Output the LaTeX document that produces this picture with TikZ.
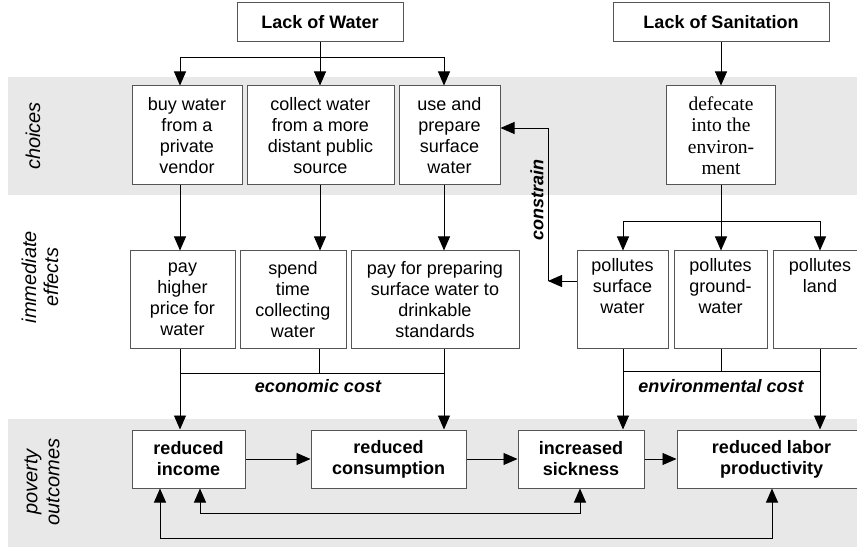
\documentclass[tikz,border=0pt]{standalone}
\usepackage{fontspec}
\setmainfont{Liberation Sans}
\newfontfamily\serifface{Liberation Serif}
\usetikzlibrary{arrows.meta}
\definecolor{bandgray}{HTML}{E8E8E8}
\definecolor{boxgray}{HTML}{555555}
\newcommand\bodyfont{\fontsize{18}{21}\selectfont}
\newcommand\lblfont{\fontsize{20}{22}\selectfont\itshape}
\tikzset{
  box/.style={draw=boxgray, line width=1pt, fill=white, align=center, inner sep=0pt, font=\bodyfont},
  topbox/.style={box, minimum height=39pt, font=\bodyfont\bfseries},
  choicebox/.style={box, minimum height=99pt},
  effbox/.style={box, minimum height=97pt},
  outbox/.style={box, minimum height=58pt, font=\bodyfont\bfseries},
  conn/.style={line width=0.9pt, black},
  arr/.style={conn, -{Triangle[length=14pt,width=12pt]}},
  darr/.style={conn, {Triangle[length=14pt,width=12pt]}-{Triangle[length=14pt,width=12pt]}},
  rowlabel/.style={rotate=90, align=center, font=\lblfont, inner sep=0pt},
  costlabel/.style={font=\bodyfont\bfseries\itshape, inner sep=0pt}
}
\begin{document}
\begin{tikzpicture}[x=1pt,y=-1pt]
\useasboundingbox (0,0) rectangle (857,548);
% bands
\fill[bandgray] (8,77) rectangle (857,195);
\fill[bandgray] (8,419) rectangle (857,547);
% row labels
\node[rowlabel] (lchoices) at (33,136) {choices};
\node[rowlabel] (leffects) at (40,277) {immediate\\effects};
\node[rowlabel] (loutcomes) at (42,482) {poverty\\outcomes};
% column x positions
\coordinate (cA) at (180,0);
\coordinate (cB) at (320,0);
\coordinate (cBb) at (319,0);
\coordinate (cC) at (444,0);
\coordinate (sA) at (623,0);
\coordinate (sB) at (721,0);
\coordinate (sC) at (820,0);
\coordinate (fA) at (160,0);
\coordinate (fB) at (200,0);
\coordinate (fC) at (580,0);
\coordinate (fD) at (772,0);
\coordinate (busW) at (0,57);
\coordinate (busS) at (0,221);
\coordinate (busE) at (0,373);
\coordinate (busV) at (0,371);
\coordinate (fb1) at (0,513);
\coordinate (fb2) at (0,538);
\coordinate (k1) at (548,281);
\coordinate (k2) at (548,128);
% top
\node[topbox, minimum width=166pt] (water) at (320,22.5) {Lack of Water};
\node[topbox, minimum width=216pt] (sanit) at (721,22.5) {Lack of Sanitation};
% choices
\node[choicebox, minimum width=110pt] (buy) at (187,135.5) {buy water\\from a\\private\\vendor};
\node[choicebox, minimum width=147pt] (collect) at (320.5,135.5) {collect water\\from a more\\distant public\\source};
\node[choicebox, minimum width=101pt] (use) at (449.5,135.5) {use and\\prepare\\surface\\water};
\node[choicebox, minimum width=109pt, font=\fontsize{19.5}{21.5}\selectfont\serifface] (defec) at (721,135.5) {defecate\\into the\\environ-\\ment};
% effects
\node[effbox, minimum width=105pt] (payhigh) at (182.5,299.5) {pay\\higher\\price for\\water};
\node[effbox, minimum width=106pt] (spend) at (293,299.5) {spend\\time\\collecting\\water};
\node[effbox, minimum width=168pt] (payfor) at (435,299.5) {pay for preparing\\surface water to\\drinkable\\standards};
\node[effbox, minimum width=91pt] (psw) at (622.5,299.5) {pollutes\\surface\\water\\\strut};
\node[effbox, minimum width=93pt] (pgw) at (720.5,299.5) {pollutes\\ground-\\water\\\strut};
\node[effbox, minimum width=94pt] (pland) at (820,299.5) {pollutes\\land\\\strut\\\strut};
% outcomes
\node[outbox, minimum width=113pt] (income) at (188.5,459) {reduced\\income};
\node[outbox, minimum width=155pt] (consum) at (388.5,459) {reduced\\consumption};
\node[outbox, minimum width=126pt] (sick) at (581,459) {increased\\sickness};
\node[outbox, minimum width=189pt] (labor) at (771.5,459) {reduced labor\\productivity};
% water to choices
\draw[conn] (water.south) -- (cB |- busW);
\draw[conn] (cA |- busW) -- (cC |- busW);
\draw[arr] (cA |- busW) -- (cA |- buy.north);
\draw[arr] (cB |- busW) -- (cB |- collect.north);
\draw[arr] (cC |- busW) -- (cC |- use.north);
% sanitation
\draw[arr] (sanit.south) -- (sB |- defec.north);
\draw[conn] (sB |- defec.south) -- (sB |- busS);
\draw[conn] (sA |- busS) -- (sC |- busS);
\draw[arr] (sA |- busS) -- (sA |- psw.north);
\draw[arr] (sB |- busS) -- (sB |- pgw.north);
\draw[arr] (sC |- busS) -- (sC |- pland.north);
% choices to effects
\draw[arr] (cA |- buy.south) -- (cA |- payhigh.north);
\draw[arr] (cB |- collect.south) -- (cB |- spend.north);
\draw[arr] (cC |- use.south) -- (cC |- payfor.north);
% economic cost
\draw[conn] (cA |- payhigh.south) -- (cA |- busE);
\draw[conn] (cBb |- spend.south) -- (cBb |- busE);
\draw[conn] (cC |- payfor.south) -- (cC |- busE);
\draw[conn] (cA |- busE) -- (cC |- busE);
\draw[arr] (cA |- busE) -- (cA |- income.north);
\draw[arr] (cC |- busE) -- (cC |- consum.north);
\node[costlabel] (ecocost) at (318,386) {economic cost};
% environmental cost
\draw[conn] (sA |- psw.south) -- (sA |- busV);
\draw[conn] (sB |- pgw.south) -- (sB |- busV);
\draw[conn] (sC |- pland.south) -- (sC |- busV);
\draw[conn] (sA |- busV) -- (sC |- busV);
\draw[arr] (sA |- busV) -- (sA |- sick.north);
\draw[arr] (sC |- busV) -- (sC |- labor.north);
\node[costlabel] (envcost) at (721,386) {environmental cost};
% constrain
\draw[arr] (psw.west |- k1) -- (k1);
\draw[arr] (k1) -- (k2) -- (use.east |- k2);
\node[costlabel, rotate=90] (constrain) at (537,200) {constrain};
% outcomes chain
\draw[arr] (income.east) -- (consum.west);
\draw[arr] (consum.east) -- (sick.west);
\draw[arr] (sick.east) -- (labor.west);
% feedback
\draw[darr] (fB |- income.south) -- (fB |- fb1) -- (fC |- fb1) -- (fC |- sick.south);
\draw[darr] (fA |- income.south) -- (fA |- fb2) -- (fD |- fb2) -- (fD |- labor.south);
\end{tikzpicture}
\end{document}
